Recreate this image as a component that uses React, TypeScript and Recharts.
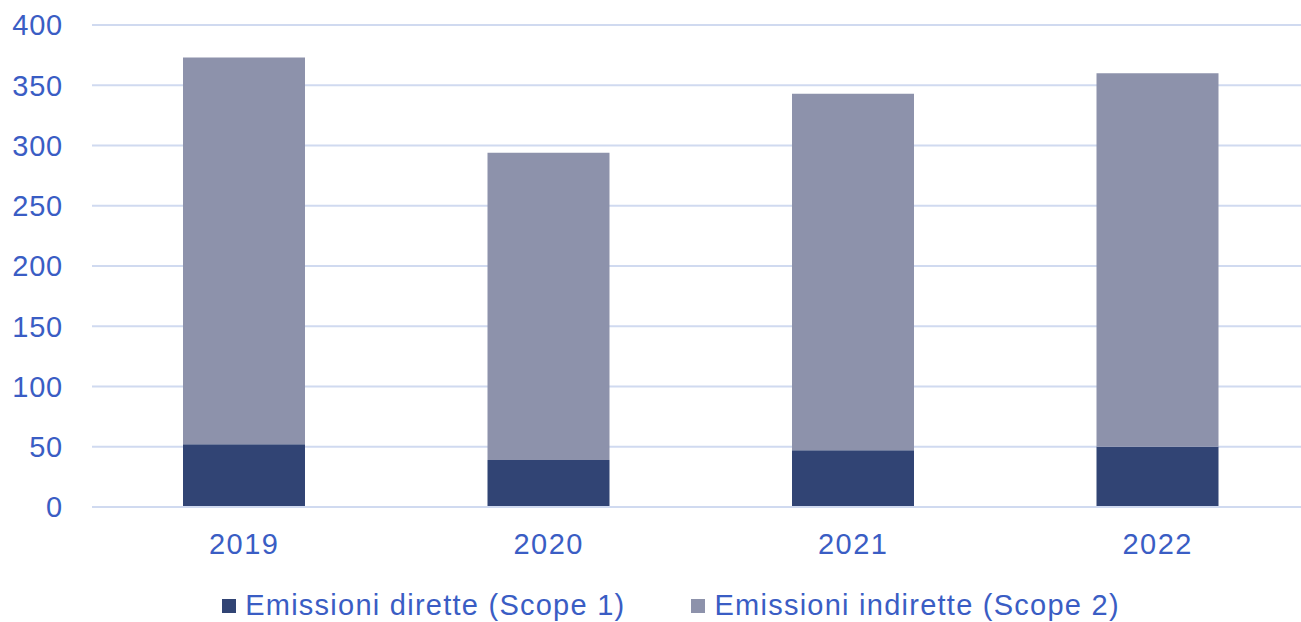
import { Bar, BarChart, CartesianGrid, Legend, XAxis, YAxis } from "recharts"

const years = ["2019", "2020", "2021", "2022"]
const scope1 = [52, 39, 47, 50]
const scope2 = [321, 255, 296, 310]
const yTicks = [0, 50, 100, 150, 200, 250, 300, 350, 400]

const data = years.map((year, i) => ({ year, scope1: scope1[i], scope2: scope2[i] }))

const TEXT = "#3A5DC4"
const FONT = "'Liberation Sans', Arial, sans-serif"

const series = [
  { key: "scope1", name: "Emissioni dirette (Scope 1)", color: "#314474" },
  { key: "scope2", name: "Emissioni indirette (Scope 2)", color: "#8D92AB" },
]

function LegendContent() {
  return (
    <div style={{ display: "flex", justifyContent: "center", paddingTop: 17, paddingLeft: 32, fontFamily: FONT, fontSize: 29, letterSpacing: 1.25, color: TEXT }}>
      {series.map((s, i) => (
        <div key={s.key} style={{ display: "flex", alignItems: "center", marginRight: i === 0 ? 66 : 0 }}>
          <span style={{ width: 14, height: 14, background: s.color, marginRight: 9, display: "inline-block" }} />
          <span>{s.name}</span>
        </div>
      ))}
    </div>
  )
}

export default function App() {
  return (
    <div style={{ position: "absolute", left: 0, top: 0, width: 1301, height: 622, overflow: "hidden", background: "#fff" }}>
      <BarChart width={1311} height={622} data={data} margin={{ top: 25, right: 1, left: 0, bottom: 0 }} barSize={122}>
        <CartesianGrid vertical={false} stroke="#D0DAF0" strokeWidth={2} />
        <XAxis
          dataKey="year"
          axisLine={{ stroke: "#D0DAF0", strokeWidth: 2 }}
          tickLine={false}
          tickSize={0}
          tickMargin={26}
          height={65}
          tick={{ fill: TEXT, fontSize: 29, fontFamily: FONT, letterSpacing: 1.5 }}
        />
        <YAxis
          domain={[0, 400]}
          ticks={yTicks}
          axisLine={false}
          tickLine={false}
          tickSize={0}
          tickMargin={29}
          width={92}
          tick={{ fill: TEXT, fontSize: 29, fontFamily: FONT, letterSpacing: 0.8 }}
        />
        <Legend verticalAlign="bottom" height={50} content={<LegendContent />} />
        {series.map((s) => (
          <Bar key={s.key} dataKey={s.key} name={s.name} stackId="a" fill={s.color} isAnimationActive={false} />
        ))}
      </BarChart>
    </div>
  )
}
